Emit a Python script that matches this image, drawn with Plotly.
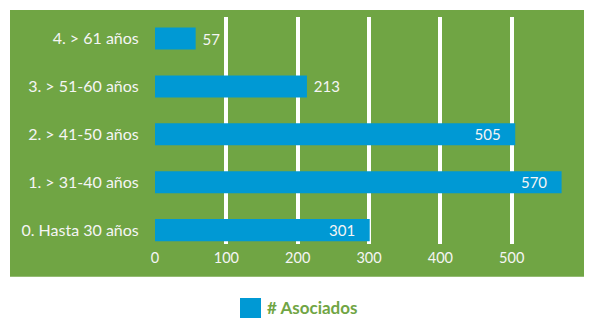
import plotly.graph_objects as go

categories = ["0. Hasta 30 años", "1. > 31-40 años", "2. > 41-50 años", "3. > 51-60 años", "4. > 61 años"]
values = [301, 570, 505, 213, 57]
label_positions = ["inside", "inside", "inside", "outside", "outside"]
tick_values = [0, 100, 200, 300, 400, 500]
series_name = "# Asociados"

GREEN = "#70a544"
BLUE = "#0099d4"
WHITE = "#f5f5f5"
FONT = "Lato, Open Sans, sans-serif"

OFF = 8  # page body margin
W, H = 592 - OFF, 318 - OFF
# plot area in page pixels: x 155..583, y 17..244
L, R = 155 - OFF, 592 - 583
T, B = 17 - OFF, 318 - 244
pw, ph = W - L - R, H - T - B

def px_x(x):
    return (x - OFF - L) / pw

def px_y(y):
    return (H - B - (y - OFF)) / ph

NB = "\u00a0"
templates = ["%{x}" + NB * 3 if p == "inside" else NB + "%{x}" for p in label_positions]

fig = go.Figure()
fig.add_trace(go.Bar(
    y=categories, x=values, orientation="h",
    marker=dict(color=BLUE, line=dict(width=0)),
    width=0.46,
    texttemplate=templates,
    textposition=label_positions,
    insidetextanchor="end",
    textfont=dict(color=WHITE, size=15, family=FONT),
    cliponaxis=False,
    name=series_name,
    showlegend=False,
))

fig.update_layout(
    width=W, height=H,
    margin=dict(l=L, r=R, t=T, b=B),
    paper_bgcolor="white",
    plot_bgcolor="rgba(0,0,0,0)",
    font=dict(family=FONT, color=WHITE, size=15),
    uniformtext=dict(minsize=15, mode="show"),
    xaxis=dict(range=[0, 600], tickvals=tick_values, showgrid=True,
               gridcolor="white", gridwidth=4, zeroline=False,
               showline=False, tickfont=dict(size=14.5, color=WHITE),
               ticks="outside", ticklen=1, tickcolor="rgba(0,0,0,0)"),
    yaxis=dict(range=[-0.29, 4.45], type="category", showgrid=False,
               zeroline=False, showline=False,
               tickfont=dict(size=16, color=WHITE),
               ticks="outside", ticklen=12, tickcolor="rgba(0,0,0,0)"),
    shapes=[
        dict(type="rect", xref="paper", yref="paper", layer="below",
             x0=px_x(10), x1=px_x(600), y0=px_y(276.7), y1=px_y(10),
             fillcolor=GREEN, line=dict(width=0)),
        dict(type="rect", xref="paper", yref="paper",
             x0=px_x(240), x1=px_x(261), y0=px_y(320), y1=px_y(298),
             fillcolor=BLUE, line=dict(width=0)),
    ],
    annotations=[
        dict(text="<b>" + series_name + "</b>", xref="paper", yref="paper",
             x=px_x(265), y=px_y(307), xanchor="left", yanchor="middle",
             showarrow=False, font=dict(size=17, color=GREEN, family=FONT)),
    ],
)

fig.write_html("out.html")
